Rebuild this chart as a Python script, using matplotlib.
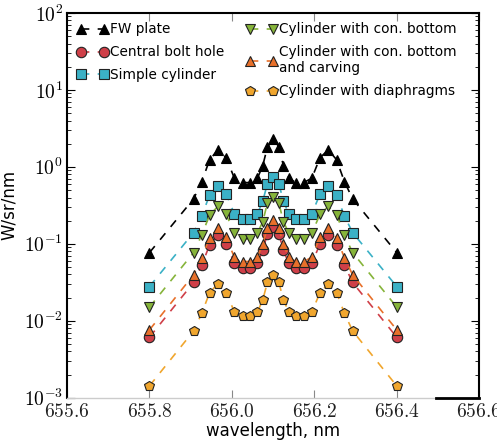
import numpy as np
import matplotlib
matplotlib.use("Agg")
import matplotlib.pyplot as plt
from matplotlib.ticker import FixedLocator, FuncFormatter, LogLocator, NullFormatter

plt.rcParams['mathtext.fontset'] = 'cm'

# longitudes de onda (nm), simetricas alrededor de 656.1
wl_izq = [655.8, 655.907, 655.927, 655.946, 655.966, 655.986, 656.006,
          656.026, 656.045, 656.062, 656.075, 656.086]
wl_centro = 656.1
wl = wl_izq + [wl_centro] + [round(2 * wl_centro - w, 3) for w in wl_izq[::-1]]

# mitad izquierda + centro de cada serie (W/sr/nm)
fw_plate = [0.077, 0.384, 0.645, 1.24, 1.66, 1.32, 0.713, 0.625, 0.625, 0.713, 1.04, 1.80, 2.29]
bolt_hole = [0.00614, 0.0315, 0.0534, 0.097, 0.131, 0.100, 0.0561, 0.0492, 0.0492, 0.0561, 0.082, 0.135, 0.168]
simple_cyl = [0.0279, 0.140, 0.231, 0.433, 0.571, 0.446, 0.245, 0.213, 0.213, 0.245, 0.361, 0.601, 0.748]
con_bottom = [0.0151, 0.077, 0.131, 0.238, 0.306, 0.243, 0.138, 0.116, 0.116, 0.138, 0.195, 0.337, 0.412]
con_carving = [0.00764, 0.0396, 0.0664, 0.119, 0.159, 0.121, 0.067, 0.059, 0.059, 0.067, 0.100, 0.160, 0.205]
diaphragms = [0.00143, 0.0074, 0.0126, 0.0233, 0.0303, 0.0233, 0.0131, 0.0114, 0.0114, 0.0131, 0.0187, 0.0315, 0.0396]

def espejo(v):
    return v + v[-2::-1]

series = [
    ("FW plate", fw_plate, 'k', '^'),
    ("Central bolt hole", bolt_hole, '#cf3f48', 'o'),
    ("Simple cylinder", simple_cyl, '#3bb1c6', 's'),
    ("Cylinder with con. bottom", con_bottom, '#86b43a', 'v'),
    ("Cylinder with con. bottom\nand carving", con_carving, '#e8702a', '^'),
    ("Cylinder with diaphragms", diaphragms, '#f0a62e', 'p'),
]

fig = plt.figure(figsize=(4.97, 4.45), dpi=100)
ax = fig.add_axes([0.135, 0.106, 0.829, 0.865])

for nombre, vals, c, m in series:
    ax.plot(wl, espejo(vals), '--', color=c, marker=m, markerfacecolor=c,
            markeredgecolor='#222222' if c != 'k' else 'k', markeredgewidth=0.8,
            markersize=7.5, lw=1.2, dashes=(5, 5), label=nombre)

ax.set_yscale('log')
ax.set_xlim(655.6, 656.6)
ax.set_ylim(1e-3, 1e2)

ax.xaxis.set_major_locator(FixedLocator([655.6, 655.8, 656.0, 656.2, 656.4, 656.6]))
ax.xaxis.set_major_formatter(FuncFormatter(lambda v, p: r'$%.1f$' % v))
ax.yaxis.set_major_locator(LogLocator(base=10, numticks=10))
ax.yaxis.set_minor_locator(LogLocator(base=10, subs=np.arange(2, 10), numticks=20))
ax.yaxis.set_minor_formatter(NullFormatter())
ax.yaxis.set_major_formatter(FuncFormatter(lambda v, p: r'$10^{%d}$' % round(np.log10(v))))
ax.tick_params(which='both', direction='in', right=True, top=True, labelsize=14)
ax.tick_params(which='major', length=6)
ax.tick_params(which='minor', length=3)
ax.tick_params(axis='x', colors='#888888', labelcolor='#222222', pad=3)
ax.tick_params(axis='y', pad=3)

for s in ['left', 'right', 'top']:
    ax.spines[s].set_linewidth(1.5)
ax.spines['bottom'].set_color('#cccccc')
ax.spines['bottom'].set_linewidth(1.0)
ax.plot([0.895, 1.0], [0.0, 0.0], color='k', lw=2, transform=ax.transAxes,
        clip_on=False, zorder=5)

ax.set_xlabel("wavelength, nm", fontsize=12, labelpad=1)
ax.set_ylabel("W/sr/nm", fontsize=12)

ax.legend(loc='upper left', ncol=2, frameon=False, numpoints=2, fontsize=9.8,
          handlelength=2.3, handletextpad=0.15, columnspacing=1.6,
          labelspacing=0.65, borderaxespad=0.3, borderpad=0.4)

fig.savefig("out.png", dpi=100)
